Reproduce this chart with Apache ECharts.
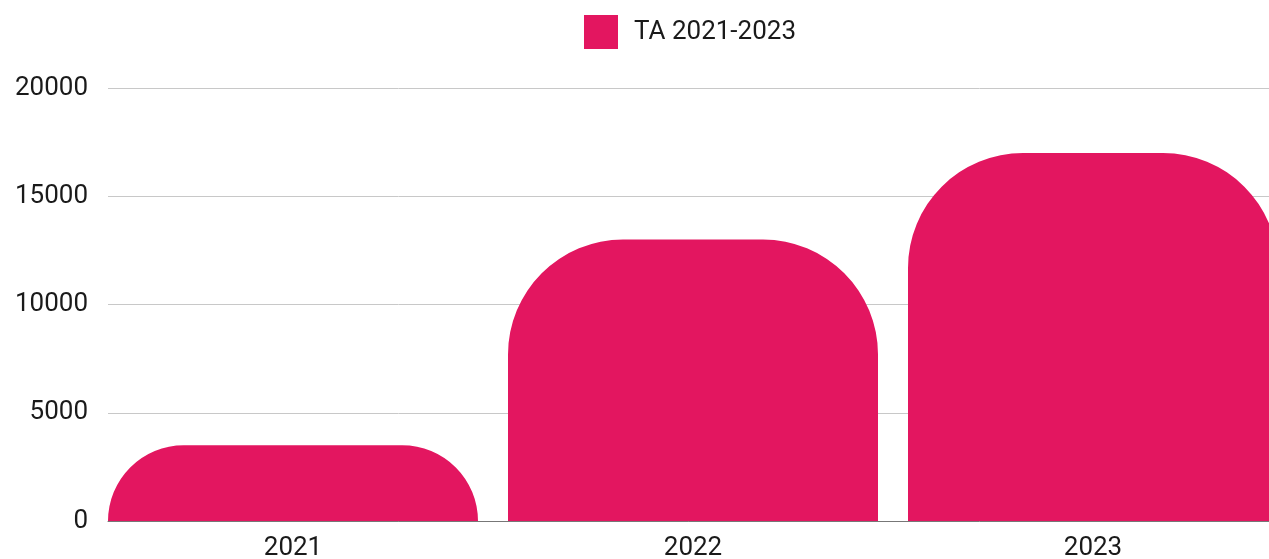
<!DOCTYPE html>
<html lang="en">

<head>
    <meta charset="UTF-8">
    <title>TA 2021-2023</title>
    <script src="https://cdn.jsdelivr.net/npm/echarts@6/dist/echarts.min.js"></script>
    <style>
        * {
            margin: 0;
            padding: 0;
        }

        #main {
            width: 1269px;
            height: 559px;
            background: #fff;
        }
    </style>
</head>

<body>
    <div id="main"></div>
    <script>
        let categories = ['2021', '2022', '2023'];
        let values = [3500, 13000, 17000];
        let seriesName = 'TA 2021-2023';
        let yMin = 0, yMax = 20000, yStep = 5000;

        let pink = '#e31660';
        let font = 'Roboto';
        let myChart = echarts.init(document.getElementById('main'));

        let option = {
            animation: false,
            textStyle: { fontFamily: font },
            legend: {
                left: 579,
                top: 10,
                itemWidth: 34,
                itemHeight: 34,
                icon: 'rect',
                data: [seriesName],
                textStyle: { fontSize: 26, color: '#1a1a1a', padding: [0, 0, 0, 11] }
            },
            grid: [
                // grid for the bars, category axis centred on the bars (runs past the right edge)
                { left: 93, width: 1200, top: 88, bottom: 38, outerBoundsMode: 'none', containLabel: false },
                // grid for the split lines and y labels
                { left: 108, width: 1200, top: 88, bottom: 38, outerBoundsMode: 'none', containLabel: false }
            ],
            xAxis: [{
                type: 'category',
                gridIndex: 0,
                data: categories,
                axisLine: { show: false },
                axisTick: { show: false },
                axisLabel: { fontSize: 26, color: '#1a1a1a', margin: 14 }
            }, {
                type: 'value',
                gridIndex: 1,
                axisLine: { show: true, onZero: false, lineStyle: { color: '#777', width: 1 } },
                axisTick: { show: false },
                axisLabel: { show: false },
                splitLine: { show: false }
            }],
            yAxis: [{
                type: 'value',
                gridIndex: 0,
                min: yMin, max: yMax, interval: yStep,
                show: false
            }, {
                type: 'value',
                gridIndex: 1,
                min: yMin, max: yMax, interval: yStep,
                axisLine: { show: false },
                axisTick: { show: false },
                axisLabel: { fontSize: 26, color: '#1a1a1a', margin: 20, formatter: v => String(v) },
                splitLine: { lineStyle: { color: '#c8c8c8', width: 1 } }
            }],
            series: [{
                name: seriesName,
                type: 'bar',
                xAxisIndex: 0,
                yAxisIndex: 0,
                data: values,
                barWidth: 370,
                itemStyle: { color: pink, borderRadius: [115, 115, 0, 0] },
                z: 3
            }]
        };

        myChart.setOption(option);
    </script>
</body>

</html>
